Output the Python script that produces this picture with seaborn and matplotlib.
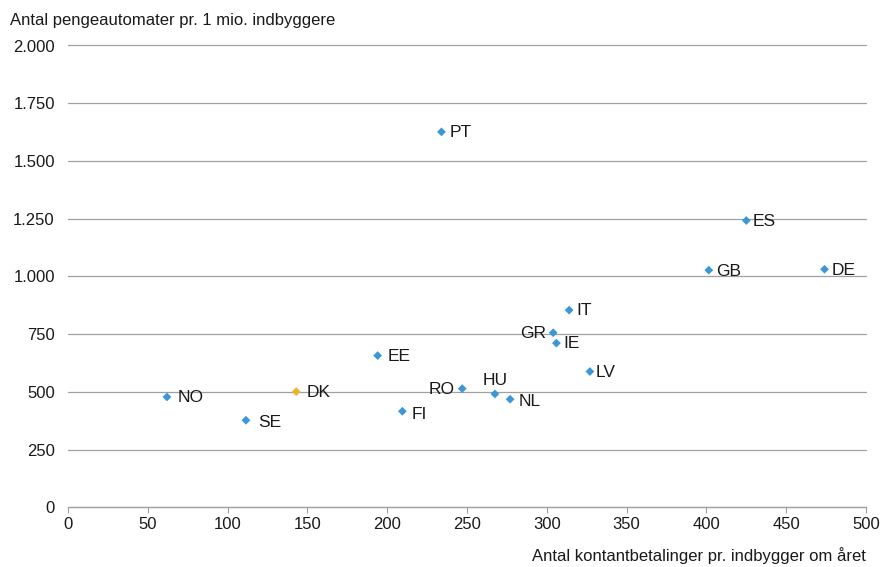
import matplotlib
matplotlib.use("Agg")
import matplotlib.pyplot as plt
import matplotlib.ticker as mticker
import seaborn as sns
import pandas as pd

countries = ["NO", "SE", "DK", "EE", "FI", "PT", "RO", "HU", "NL",
             "GR", "IE", "IT", "LV", "GB", "ES", "DE"]
cash_payments = [62, 111.5, 143, 194, 209.5, 234, 247, 267.5, 277,
                 304, 306, 314, 327, 401.5, 425, 474]
atms_per_million = [478, 377, 501, 657, 416, 1626, 514, 491, 468,
                    756, 711, 854, 588, 1027, 1242, 1031]

# label offsets in pixels from the marker: (dx, dy, ha)
label_offsets = {
    "NO": (11, 0, "left"), "SE": (12, -1, "left"), "DK": (10, 0, "left"),
    "EE": (10, 0, "left"), "FI": (9, -2, "left"), "PT": (8, 0, "left"),
    "RO": (-8, 0, "right"), "HU": (0, 14, "center"), "NL": (9, -1, "left"),
    "GR": (-7, 0, "right"), "IE": (7, 0, "left"), "IT": (7, 0, "left"),
    "LV": (6, 0, "left"), "GB": (7, -1, "left"), "ES": (6, 0, "left"),
    "DE": (7, 0, "left"),
}

blue = "#3A97D9"
gold = "#E8B52C"
PX = 72 / 100  # points per pixel at 100 dpi

df = pd.DataFrame({"country": countries, "x": cash_payments, "y": atms_per_million})
df["group"] = ["DK" if c == "DK" else "other" for c in countries]

sns.set_theme(style="white")
plt.rcParams["font.family"] = ["Liberation Sans", "DejaVu Sans"]

fig = plt.figure(figsize=(8.82, 5.67), dpi=100)
ax = fig.add_axes([68 / 882, 1 - 507.3 / 567, (866 - 68) / 882, (507.3 - 45.5) / 567])

sns.scatterplot(data=df, x="x", y="y", hue="group", palette={"DK": gold, "other": blue},
                marker="D", s=20, edgecolor="none", legend=False, ax=ax, zorder=3)

for c, xv, yv in zip(countries, cash_payments, atms_per_million):
    dx, dy, ha = label_offsets[c]
    ax.annotate(c, (xv, yv), xytext=(dx * PX, dy * PX - 0.6), textcoords="offset points",
                ha=ha, va="center", fontsize=12.5, color="#1a1a1a", zorder=4)

ax.set_xlim(0, 500)
ax.set_ylim(0, 2000)
ax.set_xticks(range(0, 501, 50))
ax.set_yticks(range(0, 2001, 250))
ax.yaxis.set_major_formatter(mticker.FuncFormatter(lambda v, p: f"{int(v):,}".replace(",", ".")))

ax.grid(axis="y", color="#a0a0a0", linewidth=0.9)
ax.grid(axis="x", visible=False)
for gl in ax.get_ygridlines():
    gl.set_clip_on(False)
ax.set_axisbelow(True)
for side in ["left", "right", "top"]:
    ax.spines[side].set_visible(False)
ax.spines["bottom"].set_color("#a0a0a0")
ax.spines["bottom"].set_linewidth(0.9)

ax.tick_params(axis="x", which="major", bottom=True, length=4, width=0.8,
               color="#a0a0a0", pad=3, labelsize=12, labelcolor="#1a1a1a")
ax.tick_params(axis="y", left=False, length=0, pad=9.5, labelsize=12, labelcolor="#1a1a1a")

ax.set_xlabel("")
ax.set_ylabel("")
fig.text(10 / 882, 1 - 20 / 567, "Antal pengeautomater pr. 1 mio. indbyggere",
         ha="left", va="center", fontsize=12, color="#1a1a1a")
fig.text(866 / 882, 1 - 556 / 567, "Antal kontantbetalinger pr. indbygger om året",
         ha="right", va="center", fontsize=12, color="#1a1a1a")

fig.savefig("out.png", dpi=100)
